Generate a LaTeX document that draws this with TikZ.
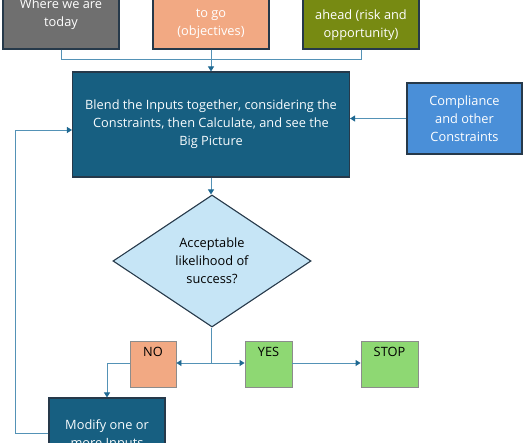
\documentclass[tikz,border=0pt]{standalone}
\usepackage{fontspec}
\setmainfont{Open Sans}
\usepackage{tikz}
\usetikzlibrary{positioning, arrows.meta, shapes.geometric, calc}
\definecolor{inkline}{RGB}{38, 57, 74}
\definecolor{wireblue}{RGB}{84, 146, 182}
\definecolor{tipblue}{RGB}{30, 104, 145}
\definecolor{todaygray}{RGB}{111, 111, 111}
\definecolor{salmon}{RGB}{242, 169, 131}
\definecolor{olive}{RGB}{119, 138, 18}
\definecolor{deepteal}{RGB}{23, 95, 129}
\definecolor{compblue}{RGB}{74, 143, 216}
\definecolor{paleblue}{RGB}{198, 229, 246}
\definecolor{leafgreen}{RGB}{142, 216, 115}

\begin{document}
\begin{tikzpicture}[x=1pt, y=-1pt, font=\fontsize{12.8}{18}\selectfont,
  box/.style={draw=inkline, line width=1.1pt, align=center, inner sep=2pt},
  inbox/.style={box, minimum width=116pt, minimum height=69pt, text=white},
  bigbox/.style={box, fill=deepteal, text=white!88!paleblue},
  smallbox/.style={box, draw=gray!90, line width=0.9pt, minimum height=46pt, text=black},
  wire/.style={draw=wireblue, line width=0.9pt},
  arr/.style={wire, -{Triangle[width=6pt, length=5pt, color=tipblue]}}]
  \useasboundingbox (0,0) rectangle (530,442);
  \clip (0,0) rectangle (530,442);
  % Inputs
  \node[inbox, fill=todaygray] (today) at (61,14.5) {Where we are\\today};
  \node[inbox, fill=salmon] (goal) at (211,14.5) {Where we want\\to go\\(objectives)};
  \node[inbox, fill=olive] (ahead) at (361,14.5) {\strut\\ahead (risk and\\opportunity)};
  % Main step
  \node[bigbox, minimum width=277pt, minimum height=105pt] (blend) at (211,124.5)
        {Blend the Inputs together, considering the\\Constraints, then Calculate, and see the\\Big Picture};
  \node[box, fill=compblue, text=white, minimum width=115pt, minimum height=71pt] (comp) at (464.5,118.5)
        {Compliance\\and other\\Constraints};
  % Decision
  \node[draw=inkline, line width=1.1pt, fill=paleblue, shape=diamond, inner sep=0pt,
        minimum width=198pt, minimum height=132pt, align=center] (accept) at (212,261)
        {Acceptable\\likelihood of\\success?};
  \node[smallbox, fill=salmon, minimum width=46pt] (no) at (153,364) {NO\\\strut};
  \node[smallbox, fill=leafgreen, minimum width=47pt] (yes) at (268.5,364) {YES\\\strut};
  \node[smallbox, fill=leafgreen, minimum width=57pt] (stop) at (389.5,364) {STOP\\\strut};
  \node[bigbox, minimum width=116pt, minimum height=74pt] (modify) at (107,435) {Modify one or\\more Inputs};
  % Connectors
  \coordinate (join) at (211,59.5);
  \coordinate (split) at (211,363);
  \coordinate (back) at (15,130);
  \draw[wire] (today.south) |- (join) -| (ahead.south);
  \draw[arr] (goal.south) -- (blend.north);
  \draw[arr] (comp.west) -- (comp.west -| blend.east);
  \draw[arr] (blend.south) -- (blend.south |- accept.north);
  \draw[wire] (accept.south -| split) -- (split);
  \draw[arr] (split) -- (split -| no.east);
  \draw[arr] (split) -- (split -| yes.west);
  \draw[arr] (yes.east |- split) -- (split -| stop.west);
  \draw[arr] (no.west |- split) -| (modify.north);
  \draw[arr] (modify.west |- 0,433) -| (back) -- (back -| blend.west);
\end{tikzpicture}
\end{document}
